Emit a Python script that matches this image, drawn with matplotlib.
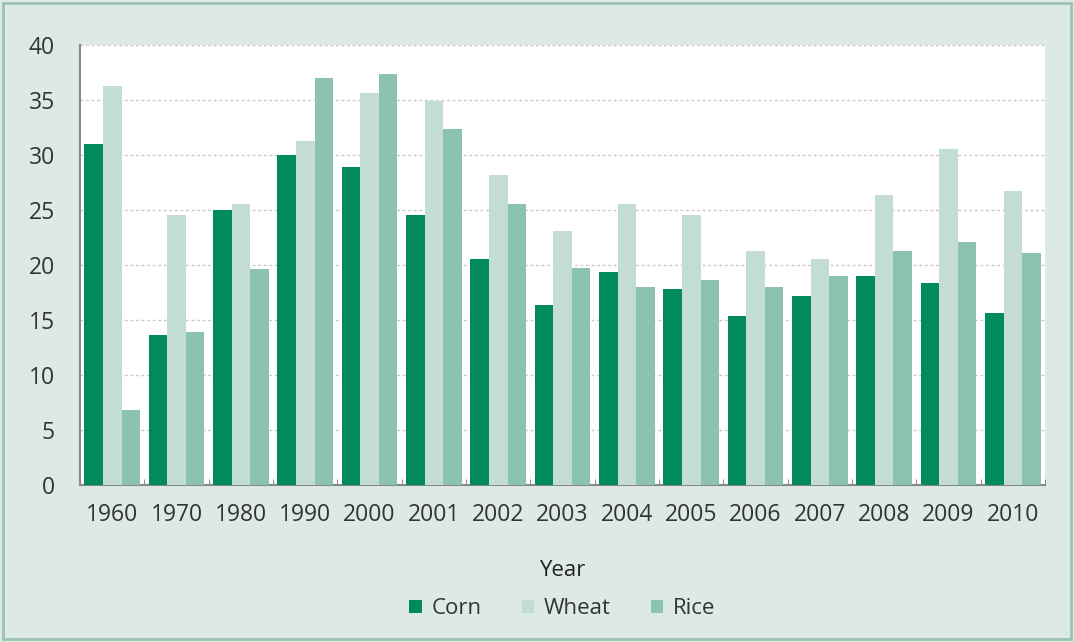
import numpy as np
import matplotlib.pyplot as plt
from matplotlib.patches import Rectangle

years = ["1960", "1970", "1980", "1990", "2000", "2001", "2002", "2003",
         "2004", "2005", "2006", "2007", "2008", "2009", "2010"]
corn = [31.0, 13.6, 25.0, 30.0, 28.9, 24.5, 20.5, 16.4, 19.4, 17.8, 15.4, 17.2, 19.0, 18.4, 15.6]
wheat = [36.3, 24.5, 25.5, 31.3, 35.6, 34.9, 28.2, 23.1, 25.5, 24.5, 21.3, 20.5, 26.4, 30.5, 26.7]
rice = [6.8, 13.9, 19.6, 37.0, 37.4, 32.4, 25.5, 19.7, 18.0, 18.6, 18.0, 19.0, 21.3, 22.1, 21.1]

plt.rcParams['font.family'] = ['Open Sans', 'DejaVu Sans']

bg = "#dceae3"
fig = plt.figure(figsize=(10.74, 6.42), dpi=100, facecolor=bg)
fig.patches.append(Rectangle((0.003, 0.005), 0.994, 0.99, transform=fig.transFigure,
                             fill=False, edgecolor="#9cc2b2", linewidth=2))
ax = fig.add_axes([0.0745, 0.2445, 0.8985, 0.6855])
ax.set_facecolor("white")

x = np.arange(len(years))
w = 0.29
ax.bar(x - w, corn, w, color="#008a5e", label="Corn", zorder=3)
ax.bar(x, wheat, w, color="#c3ddd4", label="Wheat", zorder=3)
ax.bar(x + w, rice, w, color="#8cc3af", label="Rice", zorder=3)

ax.set_xlim(-0.5, len(years) - 0.5)
ax.set_ylim(0, 40)
ax.set_yticks(range(0, 41, 5))
ax.set_xticks(x)
ax.set_xticklabels(years)
ax.set_xticks(np.arange(-0.5, len(years), 1), minor=True)
ax.tick_params(axis="x", which="major", length=0, pad=13, labelsize=16.5, labelcolor="#333333")
ax.tick_params(axis="x", which="minor", direction="in", length=4, color="#777777")
ax.tick_params(axis="y", length=0, pad=18, labelsize=16.5, labelcolor="#333333")

ax.grid(axis="y", linestyle=(0, (2, 2)), color="#c8c8c8", linewidth=1, zorder=0)
for s in ["top", "right"]:
    ax.spines[s].set_visible(False)
for s in ["left", "bottom"]:
    ax.spines[s].set_color("#888888")
    ax.spines[s].set_linewidth(1.5)

ax.set_xlabel("Year", fontsize=16, color="#222222", labelpad=24)
ax.legend(loc="upper center", bbox_to_anchor=(0.5, -0.212), ncol=3, frameon=False,
          fontsize=16, handlelength=0.55, handleheight=0.55, handletextpad=0.45,
          columnspacing=1.8, labelcolor="#333333")

fig.savefig("out.png", dpi=100, facecolor=bg)
